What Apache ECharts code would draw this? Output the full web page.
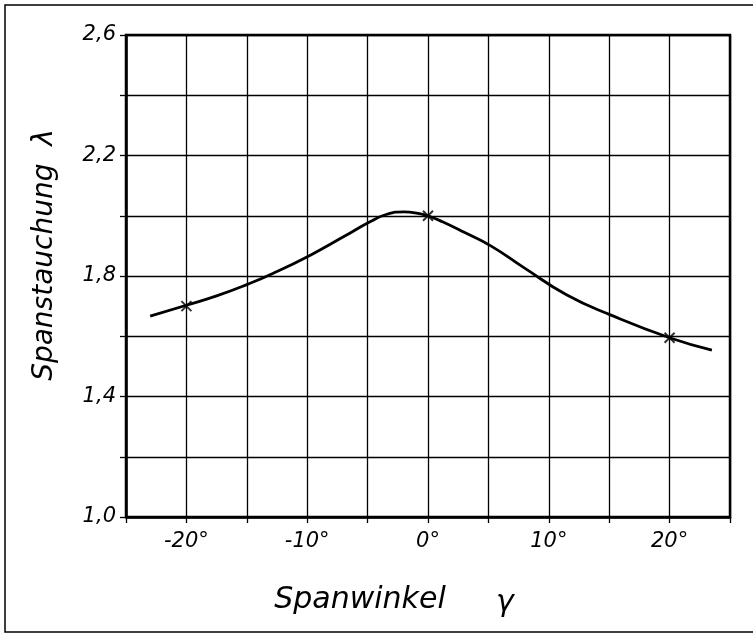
<!DOCTYPE html>
<html>
<head>
<meta charset="utf-8">
<script src="https://cdn.jsdelivr.net/npm/echarts@6/dist/echarts.min.js"></script>
<style>html,body{margin:0;padding:0;background:#fff}#c{width:753px;height:638px}</style>
</head>
<body>
<div id="c"></div>
<script>
// Spanwinkel (deg) along the curve
var curveX = [-23.0, -20.0, -17.5, -14.9, -12.8, -9.7, -7.0, -4.8, -3.4, -2.0, -0.6, 0.0, 1.2, 3.0, 5.2, 8.0, 11.5, 15.1, 20.0, 23.5];
// Spanstauchung lambda along the curve
var curveY = [1.667, 1.703, 1.734, 1.773, 1.809, 1.870, 1.930, 1.980, 2.005, 2.013, 2.006, 2.0, 1.980, 1.945, 1.900, 1.826, 1.737, 1.671, 1.595, 1.554];
// measured points (x marks)
var pointX = [-20, 0, 20];
var pointY = [1.70, 2.0, 1.595];
// tick labels
var xTickLabels = {"-20": "-20°", "-10": "-10°", "0": "0°", "10": "10°", "20": "20°"};
var yTickLabels = {"10": "1,0", "14": "1,4", "18": "1,8", "22": "2,2", "26": "2,6"};
var xTitle = "Spanwinkel";
var xSymbol = "γ";
var yTitle = "Spanstauchung  λ";

var curve = curveX.map(function (x, i) { return [x, curveY[i]]; });
var pts = pointX.map(function (x, i) { return [x, pointY[i]]; });

var font = '"DejaVu Sans", sans-serif';
var chart = echarts.init(document.getElementById('c'), null, {renderer: 'canvas'});
chart.setOption({
  animation: false,
  backgroundColor: '#fff',
  grid: {left: 126, right: 23, top: 35, bottom: 121, show: true, borderColor: '#000', borderWidth: 2.5, containLabel: false},
  xAxis: {
    type: 'value', min: -25, max: 25, interval: 5,
    axisLine: {show: true, onZero: false, lineStyle: {color: '#000', width: 2.5}},
    axisTick: {show: true, inside: false, length: 6, lineStyle: {color: '#000', width: 1.3}},
    splitLine: {show: true, lineStyle: {color: '#000', width: 1.3}},
    axisLabel: {
      margin: 14, color: '#000', fontFamily: font, fontStyle: 'italic', fontSize: 21,
      formatter: function (v) { var k = String(Math.round(v)); return xTickLabels[k] || ''; }
    }
  },
  yAxis: {
    type: 'value', min: 1.0, max: 2.6, interval: 0.2,
    axisLine: {show: true, onZero: false, lineStyle: {color: '#000', width: 2.5}},
    axisTick: {show: true, inside: false, length: 6, lineStyle: {color: '#000', width: 1.3}},
    splitLine: {show: true, lineStyle: {color: '#000', width: 1.3}},
    axisLabel: {
      margin: 10, color: '#000', fontFamily: font, fontStyle: 'italic', fontSize: 21,
      formatter: function (v) { var k = String(Math.round(v * 10)); return yTickLabels[k] || ''; }
    }
  },
  series: [
    {
      type: 'line', data: curve, smooth: 0.5, showSymbol: false, symbol: 'none',
      lineStyle: {color: '#000', width: 2.8}, z: 3
    },
    {
      type: 'scatter', data: pts,
      symbol: 'path://M0,0 L10,10 M10,0 L0,10', symbolSize: 10,
      itemStyle: {color: 'none', borderColor: '#000', borderWidth: 2}, z: 4
    }
  ],
  graphic: [
    {type: 'rect', shape: {x: 5, y: 5, width: 770, height: 627}, style: {fill: 'none', stroke: '#000', lineWidth: 1.5}, silent: true},
    {type: 'text', x: 360, y: 600, style: {text: xTitle, font: 'italic 30px ' + font, fill: '#000', textAlign: 'center', textVerticalAlign: 'middle'}},
    {type: 'text', x: 505, y: 603, style: {text: xSymbol, font: 'italic 30px ' + font, fill: '#000', textAlign: 'center', textVerticalAlign: 'middle'}},
    {type: 'text', x: 45, y: 255, rotation: Math.PI / 2, style: {text: yTitle, font: 'italic 28px ' + font, fill: '#000', textAlign: 'center', textVerticalAlign: 'middle'}}
  ]
});
</script>
</body>
</html>
